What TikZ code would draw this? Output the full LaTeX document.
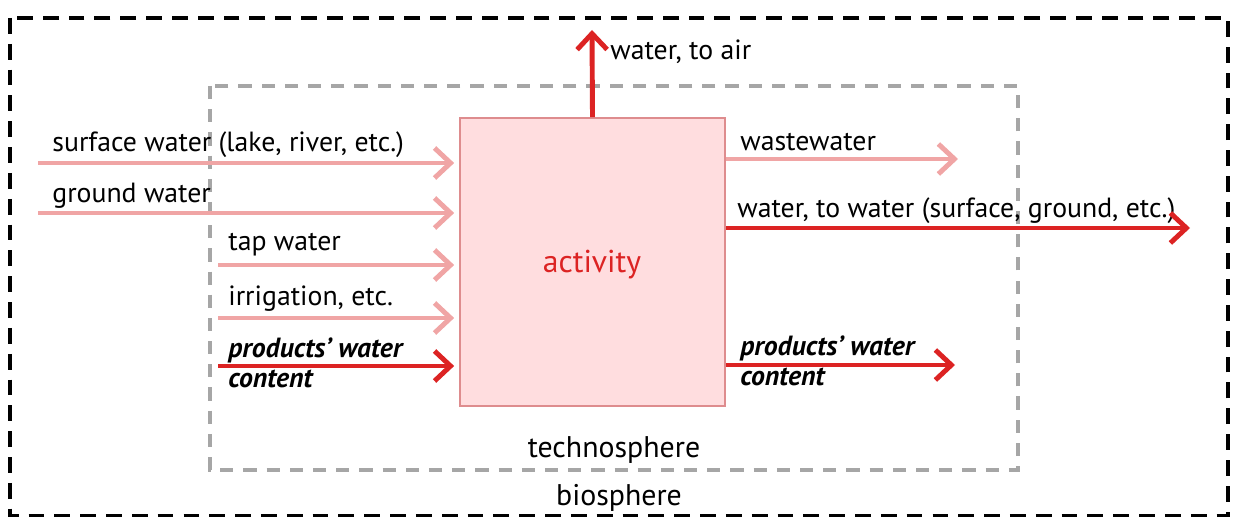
\documentclass[tikz,border=0pt]{standalone}
\usepackage{fontspec}
\setmainfont{PT Sans}
\usetikzlibrary{positioning,arrows.meta}
\definecolor{flowpink}{RGB}{240,165,165}
\definecolor{flowred}{RGB}{220,35,35}
\definecolor{actfill}{RGB}{255,221,223}
\definecolor{actdraw}{RGB}{222,140,142}
\newcommand{\flowfont}{\fontsize{15.8}{17}\selectfont}
\tikzset{
    biobox/.style={draw=black, line width=2.2pt, dash pattern=on 9pt off 5.7pt},
    technobox/.style={draw=gray!70, line width=1.8pt, dash pattern=on 7.5pt off 5.7pt},
    actbox/.style={draw=actdraw, line width=1pt, fill=actfill, minimum width=5.3cm, minimum height=5.76cm, inner sep=0pt},
    flowin/.style={draw=flowpink, line width=2.8pt, -{Straight Barb[length=3.2mm, width=6mm]}},
    flowmain/.style={draw=flowred, line width=2.8pt, -{Straight Barb[length=3.2mm, width=6mm]}},
    flowlabel/.style={anchor=base west, inner sep=0pt, font=\flowfont},
    prodlabel/.style={anchor=base west, inner sep=0pt, font=\flowfont\bfseries\itshape, align=left}
}

\begin{document}
\begin{tikzpicture}[x=0.02cm, y=-0.02cm]
    \useasboundingbox (0,0) rectangle (1235,517);
    % spheres
    \draw[biobox] (10,18) rectangle (1228,516);
    \draw[technobox] (210,86) rectangle (1018,470);
    \node[font=\fontsize{17}{19}\selectfont, anchor=base, inner sep=0pt] (techno) at (614,457) {technosphere};
    \node[font=\fontsize{17}{19}\selectfont, anchor=base, inner sep=0pt] (bio) at (619,505) {biosphere};

    % activity
    \node[actbox] (act) at (592.5,262) {};
    \node[font=\fontsize{18}{20}\selectfont, text=flowred, anchor=base, inner sep=0pt] (actlabel) at (592,273) {activity};

    % inputs
    \coordinate (surfin) at (38,163);
    \coordinate (groundin) at (38,213);
    \coordinate (tapin) at (218,265);
    \coordinate (irrin) at (218,318);
    \coordinate (prodin) at (218,366);
    \node[flowlabel] (surflabel) at (52,152) {surface water (lake, river, etc.)};
    \node[flowlabel] (groundlabel) at (52,203) {ground water};
    \node[flowlabel] (taplabel) at (228,251) {tap water};
    \node[flowlabel] (irrlabel) at (228,305) {irrigation, etc.};
    \draw[flowin, shorten >=1mm] (surfin) -- (surfin -| act.west);
    \draw[flowin, shorten >=1mm] (groundin) -- (groundin -| act.west);
    \draw[flowin, shorten >=1mm] (tapin) -- (tapin -| act.west);
    \draw[flowin, shorten >=1mm] (irrin) -- (irrin -| act.west);
    \draw[flowmain, shorten >=1mm] (prodin) -- (prodin -| act.west);
    \node[prodlabel] (prodinlabel) at (228,387) {products’ water\\content};

    % outputs
    \coordinate (airout) at (592,30);
    \coordinate (wasteout) at (958,159);
    \coordinate (waterout) at (1190,228);
    \coordinate (prodout) at (955,365);
    \node[flowlabel] (airlabel) at (610,60) {water, to air};
    \node[flowlabel] (wastelabel) at (740,151) {wastewater};
    \node[flowlabel] (waterlabel) at (737,217) {water, to water (surface, ground, etc.)};
    \draw[flowmain] (act.north) -- (airout);
    \draw[flowin] (act.east |- wasteout) -- (wasteout);
    \draw[flowmain] (act.east |- waterout) -- (waterout);
    \draw[flowmain] (act.east |- prodout) -- (prodout);
    \node[prodlabel] (prodoutlabel) at (740,385) {products’ water\\content};
\end{tikzpicture}
\end{document}
